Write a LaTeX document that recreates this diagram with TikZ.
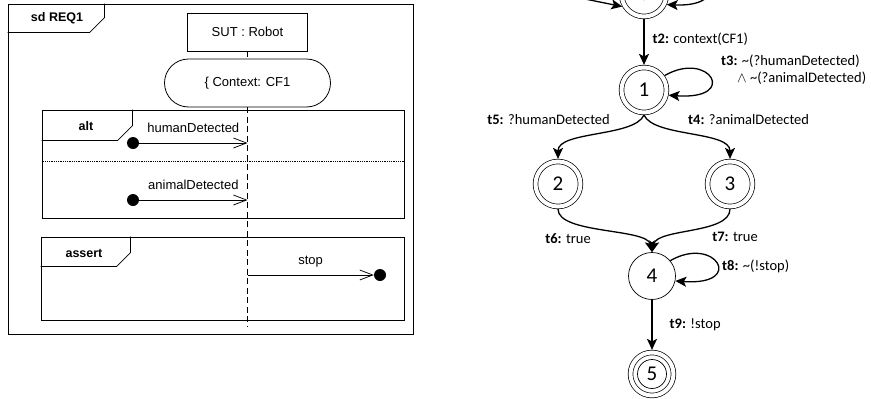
\documentclass[tikz,border=0pt]{standalone}
\usepackage{fontspec}
\setmainfont{Liberation Sans}
\newfontfamily\calfont{Carlito}
\usepackage{tikz}
\usetikzlibrary{arrows.meta, calc}
\tikzstyle{frame} = [rectangle, draw, line width=0.9pt, inner sep=0pt]
\tikzstyle{tab} = [draw, line width=0.8pt]
\tikzstyle{tabtext} = [font=\fontsize{12.5}{14}\selectfont\bfseries]
\tikzstyle{seqtext} = [font=\fontsize{13}{15}\selectfont]
\tikzstyle{lifebox} = [rectangle, draw, line width=0.9pt, minimum width=120pt, minimum height=38pt, font=\fontsize{13}{15}\selectfont]
\tikzstyle{ctxbox} = [rectangle, draw, line width=0.8pt, rounded corners=24pt, minimum width=166pt, minimum height=48pt, font=\fontsize{13}{15}\selectfont]
\tikzstyle{lifeline} = [draw, line width=0.8pt, dash pattern=on 6pt off 3.5pt]
\tikzstyle{dot} = [circle, fill=black, inner sep=0pt, minimum size=12pt]
\tikzstyle{msg} = [draw, line width=0.75pt, -{Straight Barb[length=13pt, width=10pt]}]
\tikzstyle{state} = [circle, draw, line width=0.7pt, inner sep=0pt, minimum size=47pt, font=\calfont\fontsize{21}{21}\selectfont]
\tikzstyle{accept} = [state, double, double distance=4pt, minimum size=45pt, outer sep=2.6pt]
\tikzstyle{final} = [state, double, double distance=4pt, minimum size=43pt, outer sep=2.6pt]
\tikzstyle{edge} = [draw, line width=1.3pt, -{Stealth[length=11pt, width=10pt, inset=2.5pt]}]
\tikzstyle{tlabel} = [inner sep=0pt, font=\calfont\fontsize{14.5}{17}\selectfont]

\begin{document}
\begin{tikzpicture}[x=1pt, y=-1pt]
\useasboundingbox (0,0) rectangle (871,399);
\clip (0,0) rectangle (871,399);

\node [frame, minimum width=405pt, minimum height=330pt] (req) at (210.5,169) {};
\draw [tab] ($(req.north west)+(0,29)$) -- ++(82,0) -- ++(15,-15) -- ++(0,-14);
\node [tabtext] (sdlab) at (57,18) {sd REQ1};

\node [lifebox] (sut) at (247.5,32) {SUT : Robot};
\node [ctxbox, below of = sut, node distance = 51pt] (ctx) {\{ Context: CF1};
\coordinate (lifeend) at (247.5,326);
\path [lifeline] (sut.south) to (ctx.north);
\path [lifeline] (ctx.south) to (lifeend);

\node [frame, minimum width=362pt, minimum height=108pt] (alt) at (223,164) {};
\draw [tab] ($(alt.north west)+(0,31)$) -- ++(76,0) -- ++(15,-15) -- ++(0,-16);
\node [tabtext] (altlab) at (86,126) {alt};
\draw [densely dotted, line width=0.8pt] ($(alt.north west)+(0,52)$) -- ($(alt.north east)+(0,52)$);
\draw [line width=1.3pt] (alt.south west) -- (alt.south east);

\node [dot] (hd) at (133,143) {};
\path [msg] (hd) to node [seqtext, above=6.5pt] (hdlab) {humanDetected} (hd -| sut);
\node [dot] (ad) at (133,200) {};
\path [msg] (ad) to node [seqtext, above=6.5pt] (adlab) {animalDetected} (ad -| sut);

\node [frame, minimum width=363pt, minimum height=83pt] (ast) at (222.5,278.5) {};
\draw [tab] ($(ast.north west)+(0,30)$) -- ++(76,0) -- ++(14,-14) -- ++(0,-16);
\node [tabtext] (astlab) at (84,253) {assert};

\node [dot] (st) at (380,275) {};
\path [msg] (st -| sut) to node [seqtext, above=4pt] (stlab) {stop} (st);

\node [accept] (n0) at (644,-6) {0};
\node [accept, below of = n0, node distance = 96pt] (n1) {1};
\node [accept, below of = n1, node distance = 94pt, xshift = -86pt] (n2) {2};
\node [accept, below of = n1, node distance = 94pt, xshift = 86pt] (n3) {3};
\node [state, below of = n1, node distance = 186pt, xshift = 8pt] (n4) {4};
\node [final, below of = n4, node distance = 98pt] (n5) {5};
\draw [line width=0.7pt] (n5.center) circle [radius=14.5pt];

\coordinate (init) at (580,-2);
\path [edge] (init) to (n0.210);
\path [edge] (n0.40) .. controls +(45,-26) and +(71,3) .. (n0.-25);

\path [edge] (n0) to node [tlabel, anchor=west, xshift=8pt, yshift=3pt] (l2) {\textbf{t2:} context(CF1)} (n1);
\path [edge] (n1.35) .. controls +(45,-26) and +(71,5) .. (n1.-12);
\node [tlabel, anchor=north west, align=left] (l3) at (721,55) {\textbf{t3:} \textasciitilde(?humanDetected)\\\hspace{1.1em}$\wedge$ \textasciitilde(?animalDetected)};

\path [edge] (n1.south) .. controls +(-10,22) and +(0,-28) .. (n2.north);
\path [edge] (n1.south) .. controls +(10,22) and +(0,-28) .. (n3.north);
\node [tlabel, anchor=east] (l5) at (610,120) {\textbf{t5:} ?humanDetected};
\node [tlabel, anchor=west] (l4) at (688,120) {\textbf{t4:} ?animalDetected};

\path [edge] (n2.south) .. controls +(0,25) and +(-5,-24) .. (n4.north);
\path [edge] (n3.south) .. controls +(0,25) and +(5,-24) .. (n4.north);
\node [tlabel] (l6) at (568,239) {\textbf{t6:} true};
\node [tlabel] (l7) at (735,237) {\textbf{t7:} true};

\path [edge] (n4.40) .. controls +(45,-26) and +(71,5) .. (n4.-12);
\node [tlabel, anchor=west] (l8) at (722,266) {\textbf{t8:} \textasciitilde(!stop)};

\path [edge] (n4) to node [tlabel, anchor=west, xshift=17pt] (l9) {\textbf{t9:} !stop} (n5);

\end{tikzpicture}
\end{document}
